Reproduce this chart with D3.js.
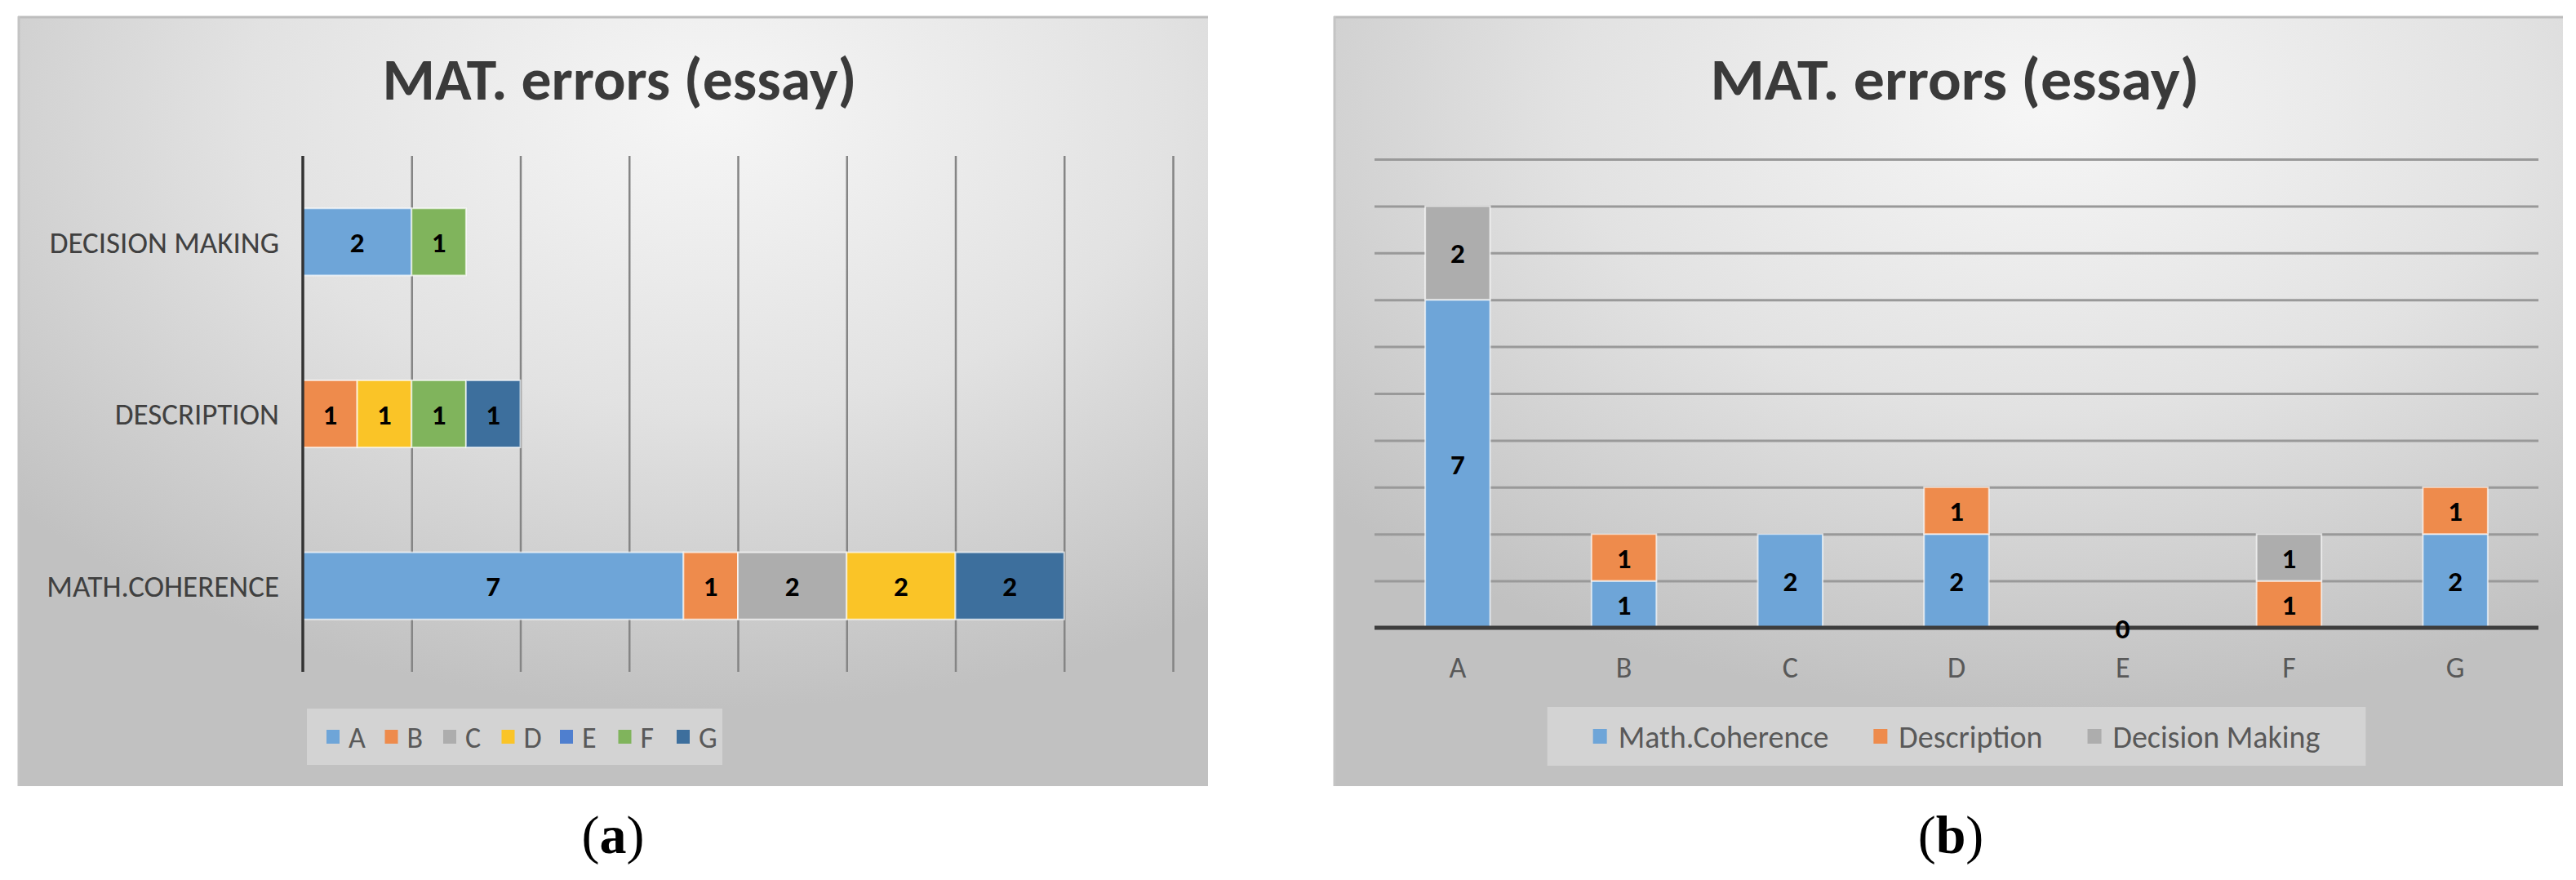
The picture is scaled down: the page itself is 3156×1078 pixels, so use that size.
<!DOCTYPE html>
<html>
<head>
    <meta charset="utf-8" />
    <title>MAT. errors (essay)</title>
    <style>
        body {
            margin: 0;
            background: #fff;
            overflow: hidden;
        }
        text {
            font-family: 'Carlito', 'Liberation Sans Narrow', 'DejaVu Sans Condensed', sans-serif;
        }
        .caption {
            font-family: 'Liberation Serif', 'DejaVu Serif', serif;
        }
    </style>
</head>
<body>
    <svg id="chart"></svg>
    <script src="https://d3js.org/d3.v7.min.js"></script>
    <script>
        // data (null = no label shown)
        var chartTitle = "MAT. errors (essay)";
        var letters = ["A", "B", "C", "D", "E", "F", "G"];
        var errorTypes = ["Math.Coherence", "Description", "Decision Making"];
        var rowLabels = ["MATH.COHERENCE", "DESCRIPTION", "DECISION MAKING"];
        var mathCoherence = [7, 1, 2, 2, 0, null, 2];
        var description = [null, 1, null, 1, null, 1, 1];
        var decisionMaking = [2, null, null, null, null, 1, null];
        var xTicksA = [2, 4, 6, 8, 10, 12, 14, 16];
        var yTicksB = [1, 2, 3, 4, 5, 6, 7, 8, 9, 10];
        var captions = ["a", "b"];

        var letterColors = ["#6ea5d8", "#ee8b4c", "#adadad", "#fac427", "#4f7fcf", "#80b45c", "#3d6f9d"];
        var typeColors = ["#6ea5d8", "#ee8b4c", "#adadad"];

        var W = 3156, H = 1078;
        var series = [mathCoherence, description, decisionMaking];

        var svg = d3.select("#chart")
            .attr("width", W)
            .attr("height", H);

        var defs = svg.append("defs");
        var grad = defs.append("radialGradient")
            .attr("id", "bg")
            .attr("cx", 0.58).attr("cy", 0.12).attr("r", 0.78);
        grad.append("stop").attr("offset", 0).attr("stop-color", "#f6f6f6");
        grad.append("stop").attr("offset", 0.5).attr("stop-color", "#e2e2e2");
        grad.append("stop").attr("offset", 1).attr("stop-color", "#c1c1c1");

        function drawPanel(box, titleWidth) {
            var g = svg.append("g");
            g.append("rect")
                .attr("x", box.x0).attr("y", box.y0)
                .attr("width", box.x1 - box.x0).attr("height", box.y1 - box.y0)
                .attr("fill", "url(#bg)");
            g.append("line")
                .attr("x1", box.x0).attr("x2", box.x1)
                .attr("y1", box.y0 + 1).attr("y2", box.y0 + 1)
                .attr("stroke", "#bdbdbd").attr("stroke-width", 3);
            g.append("line")
                .attr("x1", box.x0 + 1).attr("x2", box.x0 + 1)
                .attr("y1", box.y0).attr("y2", box.y1)
                .attr("stroke", "#c4c4c4").attr("stroke-width", 3);
            g.append("text")
                .attr("x", (box.x0 + box.x1) / 2 + 8)
                .attr("y", 122)
                .attr("text-anchor", "middle")
                .attr("font-size", 72)
                .attr("font-weight", "bold")
                .attr("fill", "#3a3a3a")
                .attr("textLength", titleWidth)
                .attr("lengthAdjust", "spacingAndGlyphs")
                .text(chartTitle);
            return g;
        }

        function segLabel(g, x, y, v) {
            g.append("text")
                .attr("x", x).attr("y", y)
                .attr("dy", "0.36em")
                .attr("text-anchor", "middle")
                .attr("font-size", 35)
                .attr("font-weight", "bold")
                .attr("fill", "#000")
                .text(v);
        }

        // ---------- (a) horizontal stacked bars ----------
        var boxA = { x0: 22, y0: 20, x1: 1480, y1: 963 };
        var gA = drawPanel(boxA, 581);

        var rowsA = rowLabels.map(function (r, i) {
            var o = { row: r };
            letters.forEach(function (l, j) { o[l] = series[i][j] || 0; });
            return o;
        });
        var xA = d3.scaleLinear().domain([0, 16]).range([371, 1437]);
        var yA = d3.scaleBand()
            .domain(rowLabels.slice().reverse())
            .range([191, 823])
            .paddingInner(0.61)
            .paddingOuter(0.305);

        gA.append("g")
            .attr("transform", "translate(0,823)")
            .call(d3.axisBottom(xA).tickValues(xTicksA).tickSize(-632).tickFormat(""))
            .call(function (ax) {
                ax.select(".domain").remove();
                ax.selectAll(".tick line").attr("stroke", "#858585").attr("stroke-width", 2.5);
            });

        var stackA = d3.stack().keys(letters)(rowsA);
        stackA.forEach(function (layer, li) {
            layer.forEach(function (d) {
                var v = d[1] - d[0];
                if (v <= 0) return;
                gA.append("rect")
                    .attr("x", xA(d[0]))
                    .attr("y", yA(d.data.row))
                    .attr("width", xA(d[1]) - xA(d[0]))
                    .attr("height", yA.bandwidth())
                    .attr("fill", letterColors[li])
                    .attr("stroke", "rgba(255,255,255,0.65)")
                    .attr("stroke-width", 2);
            });
        });
        stackA.forEach(function (layer) {
            layer.forEach(function (d) {
                var v = d[1] - d[0];
                if (v <= 0) return;
                segLabel(gA, (xA(d[0]) + xA(d[1])) / 2, yA(d.data.row) + yA.bandwidth() / 2, v);
            });
        });

        gA.append("line")
            .attr("x1", xA(0)).attr("x2", xA(0))
            .attr("y1", 191).attr("y2", 823)
            .attr("stroke", "#333").attr("stroke-width", 3.5);

        gA.selectAll(".rowlab")
            .data(rowLabels)
            .join("text")
            .attr("x", 342)
            .attr("y", function (d) { return yA(d) + yA.bandwidth() / 2; })
            .attr("dy", "0.36em")
            .attr("text-anchor", "end")
            .attr("font-size", 37)
            .attr("fill", "#404040")
            .text(function (d) { return d; });

        // legend (a)
        var legA = gA.append("g");
        legA.append("rect")
            .attr("x", 376).attr("y", 868).attr("width", 509).attr("height", 69)
            .attr("fill", "rgba(255,255,255,0.3)");
        letters.forEach(function (l, i) {
            var sx = 400 + i * 71.5;
            legA.append("rect")
                .attr("x", sx).attr("y", 894).attr("width", 16).attr("height", 17)
                .attr("fill", letterColors[i]);
            legA.append("text")
                .attr("x", sx + 27).attr("y", 903)
                .attr("dy", "0.36em")
                .attr("font-size", 36)
                .attr("fill", "#595959")
                .text(l);
        });

        // ---------- (b) vertical stacked columns ----------
        var boxB = { x0: 1634, y0: 20, x1: 3140, y1: 963 };
        var gB = drawPanel(boxB, 599);

        var rowsB = letters.map(function (l, i) {
            var o = { letter: l };
            errorTypes.forEach(function (t, k) { o[t] = series[k][i] || 0; });
            return o;
        });
        var xB = d3.scaleBand()
            .domain(letters)
            .range([1684, 3110])
            .paddingInner(0.61)
            .paddingOuter(0.305);
        var yB = d3.scaleLinear().domain([0, 10]).range([769, 195]);

        gB.append("g")
            .attr("transform", "translate(1684,0)")
            .call(d3.axisLeft(yB).tickValues(yTicksB).tickSize(-1426).tickFormat(""))
            .call(function (ax) {
                ax.select(".domain").remove();
                ax.selectAll(".tick line").attr("stroke", "#999").attr("stroke-width", 3);
            });

        var stackB = d3.stack().keys(errorTypes)(rowsB);
        stackB.forEach(function (layer, k) {
            layer.forEach(function (d) {
                if (d[1] - d[0] <= 0) return;
                gB.append("rect")
                    .attr("x", xB(d.data.letter))
                    .attr("y", yB(d[1]))
                    .attr("width", xB.bandwidth())
                    .attr("height", yB(d[0]) - yB(d[1]))
                    .attr("fill", typeColors[k])
                    .attr("stroke", "rgba(255,255,255,0.65)")
                    .attr("stroke-width", 2);
            });
        });

        gB.append("line")
            .attr("x1", 1684).attr("x2", 3110)
            .attr("y1", yB(0)).attr("y2", yB(0))
            .attr("stroke", "#3d3d3d").attr("stroke-width", 5);

        stackB.forEach(function (layer, k) {
            layer.forEach(function (d, i) {
                var raw = series[k][i];
                if (raw === null) return;
                segLabel(gB, xB(d.data.letter) + xB.bandwidth() / 2, (yB(d[0]) + yB(d[1])) / 2, raw);
            });
        });

        gB.append("g")
            .attr("transform", "translate(0," + yB(0) + ")")
            .call(d3.axisBottom(xB).tickSize(0))
            .call(function (ax) {
                ax.select(".domain").remove();
                ax.selectAll(".tick text")
                    .attr("y", 48).attr("dy", "0.36em")
                    .attr("font-size", 36)
                    .attr("font-family", null)
                    .attr("fill", "#595959");
            });

        // legend (b), centred under the title
        var legB = gB.append("g");
        var legBox = legB.append("rect")
            .attr("y", 866).attr("height", 72)
            .attr("fill", "rgba(255,255,255,0.3)");
        var cx = 0;
        var items = [];
        errorTypes.forEach(function (t, k) {
            var it = legB.append("g");
            it.append("rect")
                .attr("x", 0).attr("y", 893).attr("width", 17).attr("height", 18)
                .attr("fill", typeColors[k]);
            var tx = it.append("text")
                .attr("x", 31).attr("y", 902)
                .attr("dy", "0.36em")
                .attr("font-size", 38)
                .attr("fill", "#595959")
                .text(t);
            it.attr("transform", "translate(" + cx + ",0)");
            cx += 31 + tx.node().getComputedTextLength() + 55;
            items.push(it);
        });
        var legW = cx - 55 + 112;
        var legX = 2397 - legW / 2;
        legBox.attr("x", legX).attr("width", legW);
        var off = legX + 56;
        items.forEach(function (it) {
            var t = it.attr("transform").match(/translate\(([-\d.]+)/)[1] * 1;
            it.attr("transform", "translate(" + (off + t) + ",0)");
        });

        // captions
        [[751, captions[0]], [2390, captions[1]]].forEach(function (c) {
            var t = svg.append("text")
                .attr("class", "caption")
                .attr("x", c[0]).attr("y", 1045)
                .attr("text-anchor", "middle")
                .attr("font-size", 66)
                .attr("fill", "#000");
            t.append("tspan").text("(");
            t.append("tspan").attr("font-weight", "bold").text(c[1]);
            t.append("tspan").text(")");
        });
    </script>
</body>
</html>
